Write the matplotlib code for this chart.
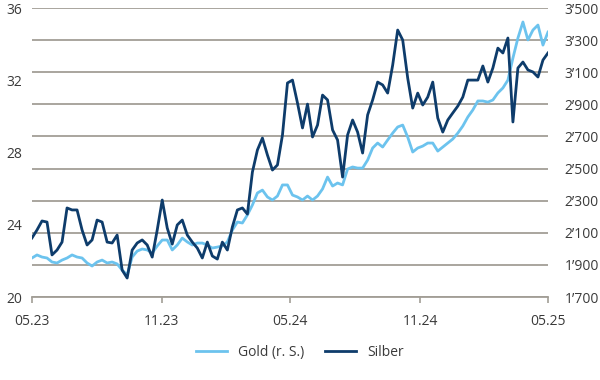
import numpy as np
import pandas as pd
import matplotlib
matplotlib.use("Agg")
import matplotlib.pyplot as plt
from matplotlib.ticker import FixedLocator, FuncFormatter

# weekly-ish readings, 05.2023 - 05.2025
silber = [23.27, 23.71, 24.21, 24.15, 22.33, 22.60, 23.04, 24.93, 24.82, 24.82,
          23.71, 22.88, 23.16, 24.26, 24.15, 23.04, 22.99, 23.43, 21.49, 21.05,
          22.60, 22.99, 23.16, 22.88, 22.21, 23.71, 25.37, 23.82, 22.93, 23.99,
          24.26, 23.43, 23.04, 22.71, 22.16, 23.04, 22.27, 22.10, 23.04, 22.60,
          23.88, 24.82, 24.93, 24.59, 26.92, 28.14, 28.80, 27.86, 27.03, 27.31,
          28.97, 31.85, 32.01, 30.74, 29.36, 30.68, 28.86, 29.52, 31.18, 30.91,
          29.25, 28.69, 26.64, 28.97, 29.80, 29.13, 27.97, 30.08, 30.91, 31.90,
          31.74, 31.29, 32.84, 34.78, 34.23, 32.12, 30.46, 31.29, 30.63, 31.07,
          31.90, 29.91, 29.13, 29.80, 30.19, 30.57, 31.07, 32.01, 32.01, 32.01,
          32.79, 31.90, 32.68, 33.78, 33.51, 34.34, 29.69, 32.68, 33.01, 32.57,
          32.46, 32.18, 33.12, 33.51]

gold = [1943, 1962, 1949, 1943, 1918, 1912, 1930, 1943, 1962, 1949,
        1943, 1912, 1893, 1918, 1930, 1912, 1918, 1906, 1868, 1837,
        1949, 1986, 1999, 1993, 1974, 2018, 2055, 2055, 1993, 2024,
        2067, 2043, 2024, 2036, 2036, 2024, 2005, 2011, 2018, 2043,
        2117, 2167, 2161, 2211, 2273, 2348, 2366, 2323, 2304, 2329,
        2398, 2398, 2335, 2323, 2304, 2329, 2304, 2329, 2373, 2447,
        2391, 2410, 2398, 2497, 2510, 2503, 2503, 2553, 2628, 2659,
        2634, 2678, 2721, 2759, 2771, 2696, 2603, 2628, 2640, 2659,
        2659, 2609, 2634, 2659, 2684, 2721, 2765, 2821, 2865, 2921,
        2921, 2914, 2927, 2971, 3002, 3051, 3188, 3313, 3413, 3301,
        3363, 3394, 3269, 3350]

dates = pd.date_range("2023-05-01", "2025-05-01", periods=len(gold))
xticks = pd.to_datetime(["2023-05-01", "2023-11-01", "2024-05-01", "2024-11-01", "2025-05-01"])
xlabels = ["05.23", "11.23", "05.24", "11.24", "05.25"]

c_gold = "#6cc3ee"
c_silber = "#0e3c6b"
c_grid = "#a29e96"
c_text = "#3a3a3a"

plt.rcParams["font.family"] = ["Open Sans", "DejaVu Sans"]

fig = plt.figure(figsize=(6, 3.8), dpi=100)
ax = fig.add_axes([0.0533, 0.2184, 0.86, 0.7605])
ax2 = ax.twinx()

# gold on right axis, gridlines come from it
ax2.plot(dates, gold, color=c_gold, lw=2.0, label="Gold (r. S.)", solid_joinstyle="round")
ax2.set_ylim(1700, 3500)
ax2.yaxis.set_major_locator(FixedLocator(np.arange(1700, 3501, 200)))
ax2.yaxis.set_major_formatter(FuncFormatter(lambda v, p: f"{int(v):,}".replace(",", "\u2019")))
ax2.grid(axis="y", color=c_grid, lw=1.3)
ax2.tick_params(axis="y", length=0, pad=12, labelsize=10, labelcolor=c_text)

ax.plot(dates, silber, color=c_silber, lw=2.0, label="Silber", solid_joinstyle="round")
ax.set_ylim(20, 36)
ax.set_yticks([20, 24, 28, 32, 36])
ax.tick_params(axis="y", length=0, pad=7, labelsize=10, labelcolor=c_text)

ax.set_zorder(ax2.get_zorder() + 1)
ax.patch.set_visible(False)

ax.set_xlim(xticks[0], xticks[-1])
ax.set_xticks(xticks)
ax.set_xticklabels(xlabels)
ax.tick_params(axis="x", length=4, width=1.2, color=c_grid, pad=8, labelsize=10, labelcolor=c_text)

for a in (ax, ax2):
    for s in ["top", "left", "right"]:
        a.spines[s].set_visible(False)
    a.spines["bottom"].set_visible(False)
ax2.spines["bottom"].set_visible(True)
ax2.spines["bottom"].set_color(c_grid)
ax2.spines["bottom"].set_linewidth(1.3)

h1, l1 = ax2.get_legend_handles_labels()
h2, l2 = ax.get_legend_handles_labels()
fig.legend(h1 + h2, l1 + l2, loc="center", bbox_to_anchor=(0.5, 0.073), ncol=2,
           frameon=False, fontsize=10, handlelength=2.2, columnspacing=1.5,
           labelcolor=c_text)

fig.savefig("out.png", dpi=100)
